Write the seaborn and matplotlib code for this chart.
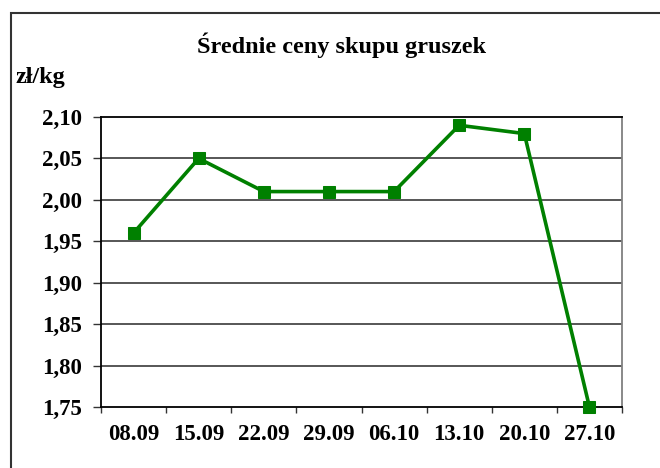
import numpy as np
import pandas as pd
import matplotlib
matplotlib.use('Agg')
import matplotlib.pyplot as plt
from matplotlib.patches import Rectangle
from matplotlib.ticker import FixedLocator, FuncFormatter
import seaborn as sns

# data
dates = ['08.09', '15.09', '22.09', '29.09', '06.10', '13.10', '20.10', '27.10']
prices = [1.96, 2.05, 2.01, 2.01, 2.01, 2.09, 2.08, 1.75]
y_ticks = [1.75, 1.80, 1.85, 1.90, 1.95, 2.00, 2.05, 2.10]

title = 'Średnie ceny skupu gruszek'
unit_label = 'zł/kg'
GREEN = '#008000'

sns.set_style('white')
plt.rcParams['font.family'] = ['Liberation Serif', 'DejaVu Serif']
plt.rcParams['font.weight'] = 'bold'
plt.rcParams['text.color'] = 'black'
plt.rcParams['xtick.labelcolor'] = 'black'
plt.rcParams['ytick.labelcolor'] = 'black'

df = pd.DataFrame({'pos': np.arange(len(dates)), 'date': dates, 'price': prices})

fig = plt.figure(figsize=(6.6, 4.68), dpi=100)
ax = fig.add_axes([101 / 660, 1 - 407 / 468, 521 / 660, 290 / 468])

sns.lineplot(data=df, x='pos', y='price', ax=ax, color=GREEN, linewidth=2.6,
             marker='s', markersize=8, markeredgecolor=GREEN, zorder=5, clip_on=False)

ax.set_xlim(-0.5, len(dates) - 0.5)
ax.set_ylim(y_ticks[0], y_ticks[-1])

# category labels centred, tick marks between categories
ax.xaxis.set_major_locator(FixedLocator(df['pos']))
ax.set_xticklabels(dates)
ax.xaxis.set_minor_locator(FixedLocator(np.arange(-0.5, len(dates), 1.0)))
ax.tick_params(axis='x', which='major', length=0, pad=12, labelsize=16.5)
ax.tick_params(axis='x', which='minor', length=4.5, width=1, color='#333333', direction='out', bottom=True)

ax.set_yticks(y_ticks)
ax.yaxis.set_major_formatter(FuncFormatter(lambda v, _: f'{v:.2f}'.replace('.', ',')))
ax.tick_params(axis='y', length=5.5, width=1, color='#333333', direction='out', pad=8, labelsize=16.5, left=True)

for t in y_ticks[1:-1]:
    ax.axhline(t, color='#3a3a3a', linewidth=1.2, zorder=1)

ax.set_xlabel('')
ax.set_ylabel('')

for side in ['left', 'bottom', 'top']:
    ax.spines[side].set_color('black')
    ax.spines[side].set_linewidth(1.3)
ax.spines['right'].set_color('#808080')
ax.spines['right'].set_linewidth(1.3)

fig.text(0.517, 1 - 45 / 468, title, ha='center', va='center', fontsize=17.5, fontweight='bold')
fig.text(15 / 660, 1 - 77 / 468, unit_label, ha='left', va='center', fontsize=17.5, fontweight='bold')

# outer chart-area frame (left and top edges visible)
fig.add_artist(Rectangle((11 / 660, -0.05), 1.1, 1.05 - 13 / 468, transform=fig.transFigure,
                         fill=False, edgecolor='#333333', linewidth=1.5, clip_on=False))

fig.savefig('out.png', dpi=100)
